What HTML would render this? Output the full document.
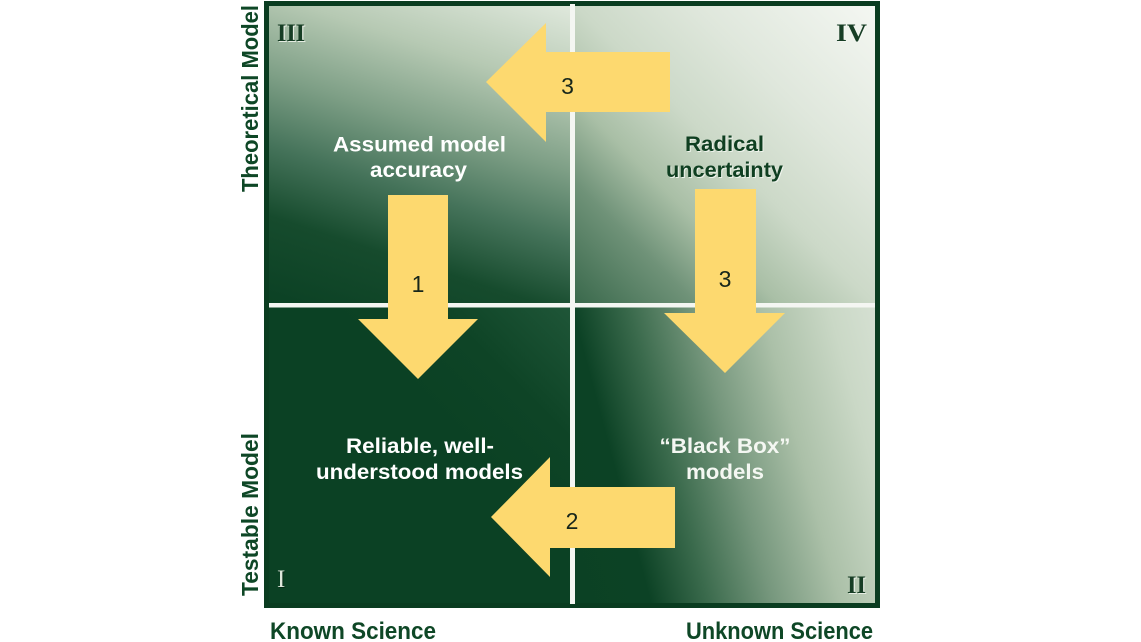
<!DOCTYPE html>
<html>
<head>
<meta charset="utf-8">
<style>
  html, body { margin:0; padding:0; background:#ffffff; }
  body { width:1141px; height:642px; position:relative; overflow:hidden; }
  .abs { position:absolute; }
  #frame { left:264px; top:1px; width:616px; height:607px; background:#0a3c20; }
  #q3 { left:269px; top:6px; width:301px; height:297px;
        background: linear-gradient(198deg, #dfe8dc 0%, #b6c9b3 22%, #7e9f86 42%, #45735a 60%, #164b2d 78%, #0b4124 100%); }
  #q4 { left:575px; top:6px; width:300px; height:297px;
        background: linear-gradient(225deg, #f4f7f2 0%, #dfe7dc 30%, #ccd9c8 50%, #a9bfa6 66%, #6f9278 80%, #3a694c 100%); }
  #q1 { left:269px; top:307px; width:301px; height:296px;
        background: linear-gradient(225deg, #1f5638 0%, #0e4426 22%, #0b4124 40%, #0b4124 100%); }
  #q2 { left:575px; top:307px; width:300px; height:296px;
        background: linear-gradient(75deg, #0b4124 0%, #0c4225 20%, #3a6a4c 35%, #76977d 52%, #abc0a8 70%, #cad8c6 88%, #d5e0d2 100%); }
  svg { position:absolute; left:0; top:0; }
  .sans { font-family:"Liberation Sans", Arial, sans-serif; }
  .serif { font-family:"Liberation Serif", "Times New Roman", serif; }
</style>
</head>
<body>
<div id="frame" class="abs"></div>
<div id="q3" class="abs"></div>
<div id="q4" class="abs"></div>
<div id="q1" class="abs"></div>
<div id="q2" class="abs"></div>

<svg width="1141" height="642" viewBox="0 0 1141 642" xmlns="http://www.w3.org/2000/svg">
  <!-- white divider lines -->
  <rect x="570" y="4" width="5" height="600" fill="#f4f6f2"/>
  <rect x="269" y="303" width="606" height="4.5" fill="#f4f6f2"/>

  <!-- arrows -->
  <g fill="#fdd96f">
    <polygon points="388,195 448,195 448,319 478,319 418,379 358,319 388,319"/>
    <polygon points="695,189 756,189 756,313 785,313 725,373 664,313 695,313"/>
    <polygon points="670,52 670,112 546,112 546,142 486,82 546,23 546,52"/>
    <polygon points="675,487 675,548 550,548 550,577 491,517 550,457 550,487"/>
  </g>

  <!-- arrow numbers -->
  <g class="sans" font-size="23" fill="#17261a" text-anchor="middle">
    <text x="418" y="292">1</text>
    <text x="567.5" y="94">3</text>
    <text x="725" y="287">3</text>
    <text x="572" y="529">2</text>
  </g>

  <!-- quadrant texts -->
  <g class="sans" font-weight="bold" font-size="21" text-anchor="middle">
    <text x="419.5" y="151.5" fill="#ffffff" textLength="173" lengthAdjust="spacingAndGlyphs">Assumed model</text>
    <text x="418.5" y="177" fill="#ffffff" textLength="97" lengthAdjust="spacingAndGlyphs">accuracy</text>

    <text x="725.5" y="152" fill="#eef3ec" textLength="79" lengthAdjust="spacingAndGlyphs">Radical</text>
    <text x="725.5" y="178" fill="#eef3ec" textLength="117" lengthAdjust="spacingAndGlyphs">uncertainty</text>
    <text x="724.5" y="151" fill="#0f3f21" textLength="79" lengthAdjust="spacingAndGlyphs">Radical</text>
    <text x="724.5" y="177" fill="#0f3f21" textLength="117" lengthAdjust="spacingAndGlyphs">uncertainty</text>

    <text x="420" y="453" fill="#ffffff" textLength="148" lengthAdjust="spacingAndGlyphs">Reliable, well-</text>
    <text x="419.5" y="479" fill="#ffffff" textLength="207" lengthAdjust="spacingAndGlyphs">understood models</text>

    <text x="725" y="453" fill="#f4f7f2" textLength="131" lengthAdjust="spacingAndGlyphs">“Black Box”</text>
    <text x="725" y="479" fill="#f4f7f2" textLength="78" lengthAdjust="spacingAndGlyphs">models</text>
  </g>

  <!-- roman numerals -->
  <g class="serif" font-size="25" font-weight="bold">
    <text x="278.2" y="42.2" fill="#e6ede3" textLength="28" lengthAdjust="spacingAndGlyphs">III</text>
    <text x="277" y="41" fill="#163d24" textLength="28" lengthAdjust="spacingAndGlyphs">III</text>
    <text x="837.2" y="42.2" fill="#f4f7f2" textLength="31" lengthAdjust="spacingAndGlyphs">IV</text>
    <text x="836" y="41" fill="#163d24" textLength="31" lengthAdjust="spacingAndGlyphs">IV</text>
    <text x="278" y="588" fill="#062a15" font-weight="normal">I</text>
    <text x="277" y="587" fill="#dfe7dc" font-weight="normal">I</text>
    <text x="848.2" y="594.2" fill="#e6ede3" textLength="19" lengthAdjust="spacingAndGlyphs">II</text>
    <text x="847" y="593" fill="#163d24" textLength="19" lengthAdjust="spacingAndGlyphs">II</text>
  </g>

  <!-- axis labels -->
  <g class="sans" font-weight="bold" fill="#0e4726">
    <text transform="translate(258,98.5) rotate(-90)" text-anchor="middle" font-size="23" textLength="187" lengthAdjust="spacingAndGlyphs">Theoretical Model</text>
    <text transform="translate(258,514.5) rotate(-90)" text-anchor="middle" font-size="23" textLength="163" lengthAdjust="spacingAndGlyphs">Testable Model</text>
    <text x="270" y="639" font-size="24" textLength="166" lengthAdjust="spacingAndGlyphs">Known Science</text>
    <text x="686" y="639" font-size="24" textLength="187" lengthAdjust="spacingAndGlyphs">Unknown Science</text>
  </g>
</svg>
</body>
</html>
